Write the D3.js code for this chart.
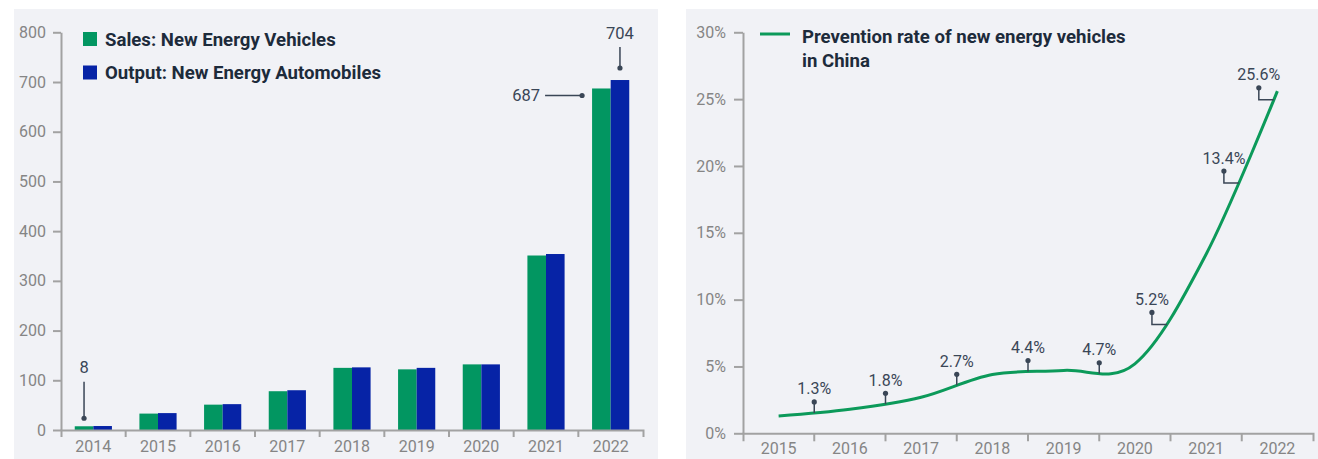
<!DOCTYPE html>
<html><head><meta charset="utf-8">
<script src="https://cdn.jsdelivr.net/npm/d3@7"></script>
<style>
body{margin:0;background:#fff;}
svg{display:block;font-family:Roboto,"Noto Sans",sans-serif;}
</style>
</head><body>
<svg id="c" width="1318" height="459"></svg>
<script>
// ---------- data ----------
const barYears = ["2014","2015","2016","2017","2018","2019","2020","2021","2022"];
const salesValues = [7.5, 33, 51, 78, 125, 122, 132, 351, 687];
const outputValues = [8, 34, 52, 80, 126, 125, 132, 354, 704];
const barTicks = [0,100,200,300,400,500,600,700,800];
const barLegend = ["Sales: New Energy Vehicles","Output: New Energy Automobiles"];
const barNotes = [
  {series:0, idx:0, text:"8", kind:"up"},
  {series:0, idx:8, text:"687", kind:"left"},
  {series:1, idx:8, text:"704", kind:"up"}
];

const rateYears = ["2015","2016","2017","2018","2019","2020","2021","2022"];
const rateValues = [1.3, 1.8, 2.7, 4.4, 4.7, 5.2, 13.4, 25.6];
const rateTicks = [0,5,10,15,20,25,30];
const rateLegend = ["Prevention rate of new energy vehicles","in China"];
const rateNotes = [
  {t:0.5, text:"1.3%", kind:"v"},
  {t:1.5, text:"1.8%", kind:"v"},
  {t:2.5, text:"2.7%", kind:"v"},
  {t:3.5, text:"4.4%", kind:"v"},
  {t:4.5, text:"4.7%", kind:"v"},
  {t:5.45, text:"5.2%", kind:"elbow"},
  {t:6.46, text:"13.4%", kind:"elbow"},
  {t:6.95, text:"25.6%", kind:"elbow"}
];

// ---------- style ----------
const C = {
  panel:"#f1f2f6", axis:"#a2a2a2", tick:"#858585", text:"#1d2b3b",
  note:"#3a4656", green:"#029661", blue:"#0623a6", line:"#0c9a5a"
};

const svg = d3.select("#c");

svg.append("rect").attr("x",14).attr("y",9).attr("width",644).attr("height",450).attr("fill",C.panel);
svg.append("rect").attr("x",686).attr("y",9).attr("width",632).attr("height",450).attr("fill",C.panel);

function styleAxis(g){
  g.selectAll(".domain, .tick line").attr("stroke",C.axis).attr("stroke-width",2);
  g.selectAll("text").attr("fill",C.tick).attr("font-size",16).attr("font-family","Roboto");
}

// ================= LEFT: bars =================
{
  const L = {left:61, right:643, top:32.3, bottom:430};
  const x = d3.scaleBand().domain(barYears).range([L.left, L.right]).padding(0);
  const y = d3.scaleLinear().domain([0,800]).range([L.bottom, L.top]);
  const bw = x.bandwidth();
  const groupW = bw*0.575;
  const xs = d3.scaleBand().domain([0,1]).range([(bw-groupW)/2,(bw+groupW)/2]).padding(0);
  const series = [salesValues, outputValues];
  const colors = [C.green, C.blue];

  const g = svg.append("g");
  series.forEach((vals,si)=>{
    g.selectAll(null).data(vals).enter().append("rect")
      .attr("x",(d,i)=>x(barYears[i])+xs(si))
      .attr("y",d=>y(d))
      .attr("width",xs.bandwidth())
      .attr("height",d=>y(0)-y(d))
      .attr("fill",colors[si]);
  });

  const ya = g.append("g").attr("transform",`translate(${L.left},0)`)
    .call(d3.axisLeft(y).tickValues(barTicks).tickSize(8).tickPadding(7).tickSizeOuter(0));
  styleAxis(ya);
  const xa = g.append("g").attr("transform",`translate(0,${L.bottom})`)
    .call(d3.axisBottom(x).tickSizeInner(0).tickSizeOuter(7).tickPadding(11));
  styleAxis(xa);
  g.selectAll(null).data(barYears.slice(1)).enter().append("line")
    .attr("x1",d=>x(d)).attr("x2",d=>x(d)).attr("y1",L.bottom).attr("y2",L.bottom+7)
    .attr("stroke",C.axis).attr("stroke-width",2);

  const lg = g.append("g");
  barLegend.forEach((t,i)=>{
    lg.append("rect").attr("x",83).attr("y",32+i*33.5).attr("width",14).attr("height",14).attr("fill",colors[i]);
    lg.append("text").attr("x",105).attr("y",45.5+i*33.5).text(t)
      .attr("font-size",18.6).attr("font-weight",700).attr("fill",C.text);
  });

  barNotes.forEach(n=>{
    const v = series[n.series][n.idx];
    const cx = x(barYears[n.idx])+xs(n.series)+xs.bandwidth()/2;
    const top = y(v);
    if(n.kind==="up"){
      const dy = n.series===0 ? 8 : 12;
      const dotY = top-dy, endY = dotY-(n.series===0?36.5:21);
      g.append("line").attr("x1",cx).attr("x2",cx).attr("y1",dotY).attr("y2",endY)
        .attr("stroke",C.note).attr("stroke-width",1.5);
      g.append("circle").attr("cx",cx).attr("cy",dotY).attr("r",2.6).attr("fill",C.note);
      g.append("text").attr("x",cx).attr("y",endY-8.5).attr("text-anchor","middle")
        .attr("font-size",16.5).attr("fill",C.note).text(n.text);
    } else {
      const bx = x(barYears[n.idx])+xs(n.series);
      const dotX = bx-10, dotY = top+7, endX = dotX-37;
      g.append("line").attr("x1",dotX).attr("x2",endX).attr("y1",dotY).attr("y2",dotY)
        .attr("stroke",C.note).attr("stroke-width",1.5);
      g.append("circle").attr("cx",dotX).attr("cy",dotY).attr("r",2.6).attr("fill",C.note);
      g.append("text").attr("x",endX-5).attr("y",dotY+6).attr("text-anchor","end")
        .attr("font-size",16.5).attr("fill",C.note).text(n.text);
    }
  });
}

// ================= RIGHT: line =================
{
  const R = {left:743, right:1313, top:32.3, bottom:433.3};
  const x = d3.scaleBand().domain(rateYears).range([R.left, R.right]).padding(0);
  const y = d3.scaleLinear().domain([0,30]).range([R.bottom, R.top]);
  const bw = x.bandwidth();
  const cxOf = i => x(rateYears[0]) + bw/2 + i*bw;

  const g = svg.append("g");
  const ya = g.append("g").attr("transform",`translate(${R.left},0)`)
    .call(d3.axisLeft(y).tickValues(rateTicks).tickFormat(d=>d+"%").tickSize(9).tickPadding(8).tickSizeOuter(0));
  styleAxis(ya);
  const xa = g.append("g").attr("transform",`translate(0,${R.bottom})`)
    .call(d3.axisBottom(x).tickSizeInner(0).tickSizeOuter(8).tickPadding(9.5));
  styleAxis(xa);
  g.selectAll(null).data(rateYears.slice(1)).enter().append("line")
    .attr("x1",d=>x(d)).attr("x2",d=>x(d)).attr("y1",R.bottom).attr("y2",R.bottom+8)
    .attr("stroke",C.axis).attr("stroke-width",2);

  const line = d3.line().x((d,i)=>cxOf(i)).y(d=>y(d)).curve(d3.curveCardinal.tension(0));
  const path = g.append("path").datum(rateValues).attr("d",line)
    .attr("fill","none").attr("stroke",C.line).attr("stroke-width",3);

  const node = path.node();
  const total = node.getTotalLength();
  function yAt(px){
    let lo=0, hi=total;
    for(let k=0;k<40;k++){
      const mid=(lo+hi)/2;
      if(node.getPointAtLength(mid).x < px) lo=mid; else hi=mid;
    }
    return node.getPointAtLength((lo+hi)/2).y;
  }

  rateNotes.forEach(n=>{
    const ax = cxOf(n.t);
    const ay = yAt(ax);
    let dotX, dotY;
    if(n.kind==="v"){
      dotX = ax; dotY = ay-11;
      g.append("line").attr("x1",ax).attr("x2",ax).attr("y1",ay).attr("y2",dotY)
        .attr("stroke",C.note).attr("stroke-width",1.5);
    } else {
      dotX = ax-15; dotY = ay-12;
      g.append("path").attr("d",`M${ax},${ay}H${dotX}V${dotY}`)
        .attr("fill","none").attr("stroke",C.note).attr("stroke-width",1.5);
    }
    g.append("circle").attr("cx",dotX).attr("cy",dotY).attr("r",2.6).attr("fill",C.note);
    g.append("text").attr("x",dotX).attr("y",dotY-7.5).attr("text-anchor","middle")
      .attr("font-size",16).attr("fill",C.note).text(n.text);
  });

  g.append("line").attr("x1",760).attr("x2",790).attr("y1",34).attr("y2",34)
    .attr("stroke",C.line).attr("stroke-width",3);
  rateLegend.forEach((t,i)=>{
    g.append("text").attr("x",802).attr("y",43.3+i*23.4).text(t)
      .attr("font-size",18.6).attr("font-weight",700).attr("fill",C.text);
  });
}
</script>
</body></html>
